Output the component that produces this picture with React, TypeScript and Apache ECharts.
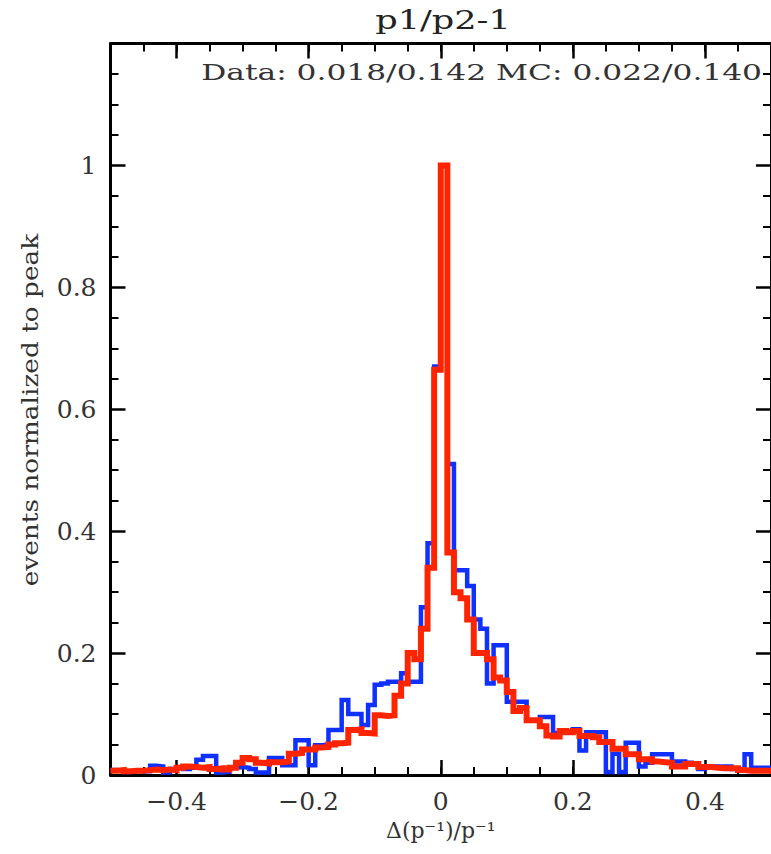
import React, { useEffect, useRef } from "react";
import * as echarts from "echarts";

// Histogram binning: 100 bins of width 0.01 from -0.5 to 0.5
const binStart = -0.5;
const binWidth = 0.01;

// Data histogram (blue), normalized to peak
const dataValues = [
  0.008, 0.007, 0.005, 0.006, 0.006, 0.006, 0.015, 0.014, 0.004, 0.01,
  0.012, 0.01, 0.012, 0.025, 0.031, 0.031, 0.004, 0.005, 0.012, 0.013,
  0.012, 0.01, 0.004, 0.004, 0.028, 0.028, 0.016, 0.016, 0.057, 0.057,
  0.016, 0.049, 0.05, 0.074, 0.074, 0.123, 0.1, 0.1, 0.082, 0.115,
  0.148, 0.15, 0.153, 0.153, 0.167, 0.153, 0.153, 0.275, 0.38, 0.67,
  1.0, 0.51, 0.336, 0.336, 0.31, 0.255, 0.24, 0.15, 0.213, 0.213,
  0.12, 0.12, 0.12, 0.09, 0.09, 0.095, 0.095, 0.069, 0.07, 0.07,
  0.075, 0.04, 0.07, 0.07, 0.07, 0.005, 0.035, 0.005, 0.053, 0.053,
  0.014, 0.02, 0.034, 0.034, 0.034, 0.022, 0.022, 0.02, 0.018, 0.01,
  0.014, 0.014, 0.014, 0.014, 0.01, 0.01, 0.034, 0.012, 0.012, 0.012,
];

// MC histogram (red), normalized to peak
const mcValues = [
  0.007, 0.008, 0.006, 0.007, 0.007, 0.008, 0.009, 0.008, 0.009, 0.008,
  0.012, 0.014, 0.013, 0.012, 0.013, 0.01, 0.011, 0.009, 0.012, 0.02,
  0.028, 0.026, 0.02, 0.019, 0.021, 0.021, 0.022, 0.035, 0.036, 0.042,
  0.042, 0.045, 0.046, 0.05, 0.052, 0.053, 0.074, 0.075, 0.069, 0.068,
  0.098, 0.097, 0.098, 0.13, 0.15, 0.2, 0.19, 0.24, 0.34, 0.665,
  1.0, 0.365, 0.3, 0.29, 0.255, 0.2, 0.2, 0.19, 0.16, 0.155,
  0.136, 0.105, 0.11, 0.09, 0.09, 0.08, 0.065, 0.063, 0.072, 0.07,
  0.072, 0.064, 0.064, 0.062, 0.054, 0.054, 0.043, 0.043, 0.034, 0.034,
  0.026, 0.026, 0.022, 0.021, 0.02, 0.014, 0.014, 0.018, 0.018, 0.013,
  0.013, 0.012, 0.011, 0.011, 0.011, 0.008, 0.007, 0.007, 0.007, 0.007,
];

const xMajorTicks = [-0.4, -0.2, 0, 0.2, 0.4];
const xMinorTicks = [
  -0.5, -0.45, -0.4, -0.35, -0.3, -0.25, -0.2, -0.15, -0.1, -0.05, 0,
  0.05, 0.1, 0.15, 0.2, 0.25, 0.3, 0.35, 0.4, 0.45, 0.5,
];

const titleText = "p1/p2-1";
const statsText = "Data: 0.018/0.142 MC: 0.022/0.140";
const xTitle = "\u0394(p\u207B\u00B9)/p\u207B\u00B9";
const yTitle = "events normalized to peak";

const toSteps = (vals: number[]) => {
  const pts: number[][] = vals.map((v, i) => [
    +(binStart + i * binWidth).toFixed(4),
    v,
  ]);
  pts.push([+(binStart + vals.length * binWidth).toFixed(4), vals[vals.length - 1]]);
  return pts;
};

const FONT = "DejaVu Serif";
const TXT = "#222";

export default function App() {
  const ref = useRef<HTMLDivElement>(null);
  useEffect(() => {
    document.body.style.margin = "0";
    if (!ref.current) return;
    const chart = echarts.init(ref.current, undefined, { renderer: "svg" });

    const baseX = {
      type: "value" as const,
      min: -0.5,
      max: 0.5,
      interval: 0.05,
      splitLine: { show: false },
    };
    const fmt = (v: number) =>
      v < 0 ? "\u2212" + Math.abs(v) : String(Math.round(v * 100) / 100);

    const majorTick = (vals?: number[]) => ({
      show: true,
      inside: true,
      length: 15,
      lineStyle: { color: "#000", width: 2.5 },
      ...(vals ? { customValues: vals } : {}),
    });
    const minorTickX = {
      show: true,
      inside: true,
      length: 8,
      lineStyle: { color: "#000", width: 2 },
      customValues: xMinorTicks,
    };
    const line = { show: true, onZero: false, lineStyle: { color: "#000", width: 3 } };

    chart.setOption({
      animation: false,
      backgroundColor: "#fff",
      grid: { left: 110.5, right: -4.5, top: 43.5, bottom: 79 },
      graphic: [
        {
          type: "text",
          x: 443,
          y: 20,
          scaleX: 1.35,
          style: {
            text: titleText,
            font: `26px "${FONT}"`,
            fill: TXT,
            textAlign: "center",
            textVerticalAlign: "middle",
          },
        },
        {
          type: "text",
          x: 762,
          y: 72,
          scaleX: 1.36,
          style: {
            text: statsText,
            font: `23px "${FONT}"`,
            fill: "#333",
            textAlign: "right",
            textVerticalAlign: "middle",
          },
        },
        {
          type: "text",
          x: 30,
          y: 410,
          rotation: Math.PI / 2,
          scaleX: 1.2,
          style: {
            text: yTitle,
            font: `22px "${FONT}"`,
            fill: "#333",
            textAlign: "center",
            textVerticalAlign: "middle",
          },
        },
      ],
      xAxis: [
        {
          ...baseX,
          position: "bottom",
          name: xTitle,
          nameLocation: "middle",
          nameGap: 44,
          nameTextStyle: { fontFamily: FONT, fontSize: 22, color: "#333" },
          axisLine: line,
          axisTick: minorTickX,
          axisLabel: {
            show: true,
            margin: 14,
            fontFamily: FONT,
            fontSize: 25,
            color: "#333",
            customValues: xMajorTicks,
            formatter: fmt,
          },
        },
        {
          ...baseX,
          position: "bottom",
          axisLine: { show: false, onZero: false },
          axisTick: majorTick(xMajorTicks),
          axisLabel: { show: false },
        },
        {
          ...baseX,
          position: "top",
          axisLine: line,
          axisTick: minorTickX,
          axisLabel: { show: false },
        },
        {
          ...baseX,
          position: "top",
          axisLine: { show: false, onZero: false },
          axisTick: majorTick(xMajorTicks),
          axisLabel: { show: false },
        },
      ],
      yAxis: [
        {
          type: "value",
          position: "left",
          min: 0,
          max: 1.2,
          interval: 0.2,
          splitLine: { show: false },
          axisLine: line,
          axisTick: majorTick(),
          minorTick: {
            show: true,
            splitNumber: 4,
            length: 8,
            lineStyle: { color: "#000", width: 2 },
          },
          axisLabel: {
            show: true,
            margin: 14,
            fontFamily: FONT,
            fontSize: 25,
            color: "#333",
            showMaxLabel: false,
          },
        },
        {
          type: "value",
          position: "right",
          min: 0,
          max: 1.2,
          interval: 0.2,
          splitLine: { show: false },
          axisLine: line,
          axisTick: majorTick(),
          minorTick: {
            show: true,
            splitNumber: 4,
            length: 8,
            lineStyle: { color: "#000", width: 2 },
          },
          axisLabel: { show: false },
        },
      ],
      series: [
        {
          name: "Data",
          type: "line",
          step: "end",
          xAxisIndex: 0,
          yAxisIndex: 0,
          showSymbol: false,
          symbol: "none",
          data: toSteps(dataValues),
          lineStyle: { color: "#1030ff", width: 4.5, join: "miter", cap: "butt" },
          z: 2,
        },
        {
          name: "MC",
          type: "line",
          step: "end",
          xAxisIndex: 0,
          yAxisIndex: 0,
          showSymbol: false,
          symbol: "none",
          data: toSteps(mcValues),
          lineStyle: { color: "#ff2400", width: 6, join: "miter", cap: "butt" },
          z: 3,
        },
      ],
    });
    return () => chart.dispose();
  }, []);
  return (
    <div
      ref={ref}
      style={{ position: "absolute", left: 0, top: 0, width: 771, height: 854 }}
    />
  );
}
